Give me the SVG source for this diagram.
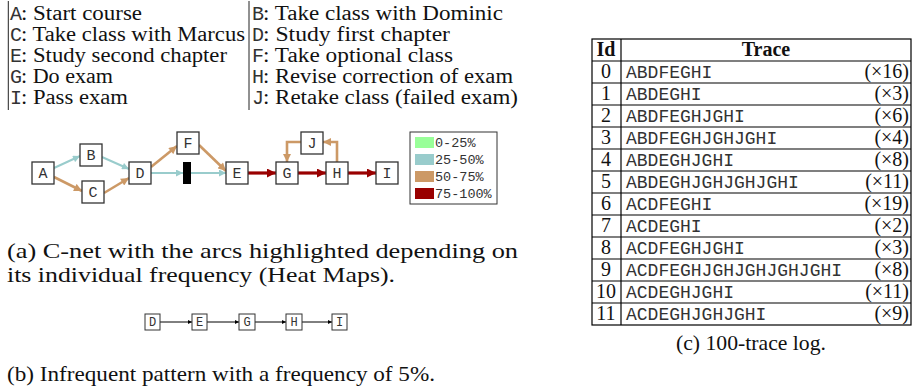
<svg xmlns="http://www.w3.org/2000/svg" width="912" height="392" viewBox="0 0 912 392">
<style>
.serif{font-family:"Liberation Serif","Times New Roman",serif;fill:#111}
.mono{font-family:"Liberation Mono","Courier New",monospace;fill:#333}
.leg{font-size:20px}
.cap{font-size:21px}
.node rect{fill:#fff;stroke:#333;stroke-width:1.3}
.node text{font-family:"Liberation Mono","Courier New",monospace;font-size:15px;fill:#333;text-anchor:middle}
.pat rect{fill:#fff;stroke:#333;stroke-width:1}
.pat text{font-family:"Liberation Mono","Courier New",monospace;font-size:12px;fill:#333;text-anchor:middle}
.eb{stroke:#99cccc;stroke-width:2;fill:none}
.et{stroke:#cc9966;stroke-width:2.6;fill:none}
.er{stroke:#990000;stroke-width:3.2;fill:none}
.ek{stroke:#000;stroke-width:1;fill:none}
.tl{stroke:#000;stroke-width:1.2}
.tid{font-family:"Liberation Serif","Times New Roman",serif;font-size:20px;fill:#111;text-anchor:middle}
.ttr{font-family:"Liberation Mono","Courier New",monospace;font-size:18px;fill:#333}
.tct{font-family:"Liberation Serif","Times New Roman",serif;font-size:20px;fill:#111;text-anchor:end}
.lg{font-family:"Liberation Mono","Courier New",monospace;font-size:13.5px;fill:#333}
</style>
<defs>
<marker id="mb" viewBox="0 0 10 10" refX="10" refY="5" markerWidth="8" markerHeight="7" markerUnits="userSpaceOnUse" orient="auto"><path d="M0,0L10,5L0,10z" fill="#99cccc"/></marker>
<marker id="mt" viewBox="0 0 10 10" refX="10" refY="5" markerWidth="9" markerHeight="8" markerUnits="userSpaceOnUse" orient="auto"><path d="M0,0L10,5L0,10z" fill="#cc9966"/></marker>
<marker id="mr" viewBox="0 0 10 10" refX="10" refY="5" markerWidth="11" markerHeight="9" markerUnits="userSpaceOnUse" orient="auto"><path d="M0,0L10,5L0,10z" fill="#990000"/></marker>
<marker id="mk" viewBox="0 0 10 10" refX="10" refY="5" markerWidth="5" markerHeight="4" markerUnits="userSpaceOnUse" orient="auto"><path d="M0,0L10,5L0,10z" fill="#000"/></marker>
</defs>

<g id="activity-legend">
<line x1="8.3" y1="1" x2="8.3" y2="110" stroke="#222" stroke-width="1"/>
<line x1="249" y1="1" x2="249" y2="110" stroke="#222" stroke-width="1"/>
<text class="mono leg" x="10" y="20">A</text><text class="serif leg" x="21" y="20" textLength="121" lengthAdjust="spacingAndGlyphs">: Start course</text>
<text class="mono leg" x="10" y="41">C</text><text class="serif leg" x="21" y="41" textLength="224" lengthAdjust="spacingAndGlyphs">: Take class with Marcus</text>
<text class="mono leg" x="10" y="62">E</text><text class="serif leg" x="21" y="62" textLength="206" lengthAdjust="spacingAndGlyphs">: Study second chapter</text>
<text class="mono leg" x="10" y="83">G</text><text class="serif leg" x="21" y="83" textLength="92" lengthAdjust="spacingAndGlyphs">: Do exam</text>
<text class="mono leg" x="10" y="104">I</text><text class="serif leg" x="21" y="104" textLength="107" lengthAdjust="spacingAndGlyphs">: Pass exam</text>
<text class="mono leg" x="252" y="20">B</text><text class="serif leg" x="263" y="20" textLength="240" lengthAdjust="spacingAndGlyphs">: Take class with Dominic</text>
<text class="mono leg" x="252" y="41">D</text><text class="serif leg" x="263" y="41" textLength="187" lengthAdjust="spacingAndGlyphs">: Study first chapter</text>
<text class="mono leg" x="252" y="62">F</text><text class="serif leg" x="263" y="62" textLength="190" lengthAdjust="spacingAndGlyphs">: Take optional class</text>
<text class="mono leg" x="252" y="83">H</text><text class="serif leg" x="263" y="83" textLength="250" lengthAdjust="spacingAndGlyphs">: Revise correction of exam</text>
<text class="mono leg" x="252" y="104">J</text><text class="serif leg" x="263" y="104" textLength="255" lengthAdjust="spacingAndGlyphs">: Retake class (failed exam)</text>
</g>

<g id="connectors">
<line class="eb" x1="54" y1="168" x2="80" y2="156" marker-end="url(#mb)"/>
<line class="et" x1="54" y1="177" x2="82" y2="191" marker-end="url(#mt)"/>
<line class="eb" x1="102" y1="157" x2="129" y2="169" marker-end="url(#mb)"/>
<line class="et" x1="104" y1="193" x2="129" y2="178" marker-end="url(#mt)"/>
<line class="et" x1="151" y1="167" x2="177" y2="146" marker-end="url(#mt)"/>
<line class="eb" x1="151" y1="173" x2="183" y2="173" marker-end="url(#mb)"/>
<line class="eb" x1="191" y1="173" x2="226" y2="173" marker-end="url(#mb)"/>
<line class="et" x1="199" y1="145" x2="226" y2="171" marker-end="url(#mt)"/>
<line class="er" x1="248" y1="173" x2="276" y2="173" marker-end="url(#mr)"/>
<line class="er" x1="298" y1="173" x2="326" y2="173" marker-end="url(#mr)"/>
<line class="er" x1="348" y1="173" x2="376" y2="173" marker-end="url(#mr)"/>
<polyline class="et" points="337,162 337,142 323,142" marker-end="url(#mt)"/>
<polyline class="et" points="301,142 287,142 287,162" marker-end="url(#mt)"/>
<line class="ek" x1="160" y1="322" x2="192" y2="322" marker-end="url(#mk)"/>
<line class="ek" x1="207" y1="322" x2="239" y2="322" marker-end="url(#mk)"/>
<line class="ek" x1="255" y1="322" x2="286" y2="322" marker-end="url(#mk)"/>
<line class="ek" x1="302" y1="322" x2="332" y2="322" marker-end="url(#mk)"/>
</g>

<g id="node-A" class="node"><rect x="32" y="162" width="22" height="22"/><text x="43" y="178">A</text></g>
<g id="node-B" class="node"><rect x="80" y="144" width="22" height="22"/><text x="91" y="160">B</text></g>
<g id="node-C" class="node"><rect x="82" y="181" width="22" height="22"/><text x="93" y="197">C</text></g>
<g id="node-D" class="node"><rect x="129" y="162" width="22" height="22"/><text x="140" y="178">D</text></g>
<g id="node-F" class="node"><rect x="177" y="132" width="22" height="22"/><text x="188" y="148">F</text></g>
<g id="node-bar"><rect x="183" y="162" width="8" height="22" fill="#000"/></g>
<g id="node-E" class="node"><rect x="226" y="162" width="22" height="22"/><text x="237" y="178">E</text></g>
<g id="node-G" class="node"><rect x="276" y="162" width="22" height="22"/><text x="287" y="178">G</text></g>
<g id="node-H" class="node"><rect x="326" y="162" width="22" height="22"/><text x="337" y="178">H</text></g>
<g id="node-I" class="node"><rect x="376" y="162" width="22" height="22"/><text x="387" y="178">I</text></g>
<g id="node-J" class="node"><rect x="301" y="132" width="22" height="22"/><text x="312" y="148">J</text></g>

<g id="heat-legend">
<rect x="410" y="132" width="87" height="72" fill="#fff" stroke="#333" stroke-width="1"/>
<rect x="415" y="137" width="19" height="11" fill="#99ff99"/>
<rect x="415" y="154" width="19" height="11" fill="#99cccc"/>
<rect x="415" y="171" width="19" height="11" fill="#cc9966"/>
<rect x="415" y="188" width="19" height="11" fill="#990000"/>
<text class="lg" x="435" y="147">0-25%</text>
<text class="lg" x="435" y="164">25-50%</text>
<text class="lg" x="435" y="181">50-75%</text>
<text class="lg" x="435" y="198">75-100%</text>
</g>

<g id="caption-a">
<text class="serif cap" x="7" y="258" textLength="511" lengthAdjust="spacingAndGlyphs">(a) C-net with the arcs highlighted depending on</text>
<text class="serif cap" x="7" y="282" textLength="388" lengthAdjust="spacingAndGlyphs">its individual frequency (Heat Maps).</text>
</g>

<g id="pat-D" class="pat"><rect x="145" y="314" width="15" height="16"/><text x="152.5" y="326">D</text></g>
<g id="pat-E" class="pat"><rect x="192" y="314" width="15" height="16"/><text x="199.5" y="326">E</text></g>
<g id="pat-G" class="pat"><rect x="239" y="314" width="16" height="16"/><text x="247" y="326">G</text></g>
<g id="pat-H" class="pat"><rect x="286" y="314" width="16" height="16"/><text x="294" y="326">H</text></g>
<g id="pat-I" class="pat"><rect x="332" y="314" width="15" height="16"/><text x="339.5" y="326">I</text></g>

<g id="caption-b">
<text class="serif cap" x="7" y="381" textLength="428" lengthAdjust="spacingAndGlyphs">(b) Infrequent pattern with a frequency of 5%.</text>
</g>

<g id="trace-table">
<rect x="592" y="39" width="319" height="286" fill="none" stroke="#000" stroke-width="1.2"/>
<line class="tl" x1="621" y1="39" x2="621" y2="325"/>
<line class="tl" x1="592" y1="61" x2="911" y2="61"/>
<line class="tl" x1="592" y1="83" x2="911" y2="83"/>
<line class="tl" x1="592" y1="105" x2="911" y2="105"/>
<line class="tl" x1="592" y1="127" x2="911" y2="127"/>
<line class="tl" x1="592" y1="149" x2="911" y2="149"/>
<line class="tl" x1="592" y1="171" x2="911" y2="171"/>
<line class="tl" x1="592" y1="193" x2="911" y2="193"/>
<line class="tl" x1="592" y1="215" x2="911" y2="215"/>
<line class="tl" x1="592" y1="237" x2="911" y2="237"/>
<line class="tl" x1="592" y1="259" x2="911" y2="259"/>
<line class="tl" x1="592" y1="281" x2="911" y2="281"/>
<line class="tl" x1="592" y1="303" x2="911" y2="303"/>
<text class="tid" x="606" y="56" font-weight="bold">Id</text>
<text class="tid" x="766" y="56" font-weight="bold">Trace</text>
<text class="tid" x="606" y="78">0</text><text class="ttr" x="626" y="78">ABDFEGHI</text><text class="tct" x="909" y="78">(×16)</text>
<text class="tid" x="606" y="100">1</text><text class="ttr" x="626" y="100">ABDEGHI</text><text class="tct" x="909" y="100">(×3)</text>
<text class="tid" x="606" y="122">2</text><text class="ttr" x="626" y="122">ABDFEGHJGHI</text><text class="tct" x="909" y="122">(×6)</text>
<text class="tid" x="606" y="144">3</text><text class="ttr" x="626" y="144">ABDFEGHJGHJGHI</text><text class="tct" x="909" y="144">(×4)</text>
<text class="tid" x="606" y="166">4</text><text class="ttr" x="626" y="166">ABDEGHJGHI</text><text class="tct" x="909" y="166">(×8)</text>
<text class="tid" x="606" y="188">5</text><text class="ttr" x="626" y="188">ABDEGHJGHJGHJGHI</text><text class="tct" x="909" y="188">(×11)</text>
<text class="tid" x="606" y="210">6</text><text class="ttr" x="626" y="210">ACDFEGHI</text><text class="tct" x="909" y="210">(×19)</text>
<text class="tid" x="606" y="232">7</text><text class="ttr" x="626" y="232">ACDEGHI</text><text class="tct" x="909" y="232">(×2)</text>
<text class="tid" x="606" y="254">8</text><text class="ttr" x="626" y="254">ACDFEGHJGHI</text><text class="tct" x="909" y="254">(×3)</text>
<text class="tid" x="606" y="276">9</text><text class="ttr" x="626" y="276">ACDFEGHJGHJGHJGHJGHI</text><text class="tct" x="909" y="276">(×8)</text>
<text class="tid" x="606" y="298">10</text><text class="ttr" x="626" y="298">ACDEGHJGHI</text><text class="tct" x="909" y="298">(×11)</text>
<text class="tid" x="606" y="320">11</text><text class="ttr" x="626" y="320">ACDEGHJGHJGHI</text><text class="tct" x="909" y="320">(×9)</text>
</g>

<g id="caption-c">
<text class="serif cap" x="751" y="350" text-anchor="middle" textLength="150" lengthAdjust="spacingAndGlyphs">(c) 100-trace log.</text>
</g>
</svg>
